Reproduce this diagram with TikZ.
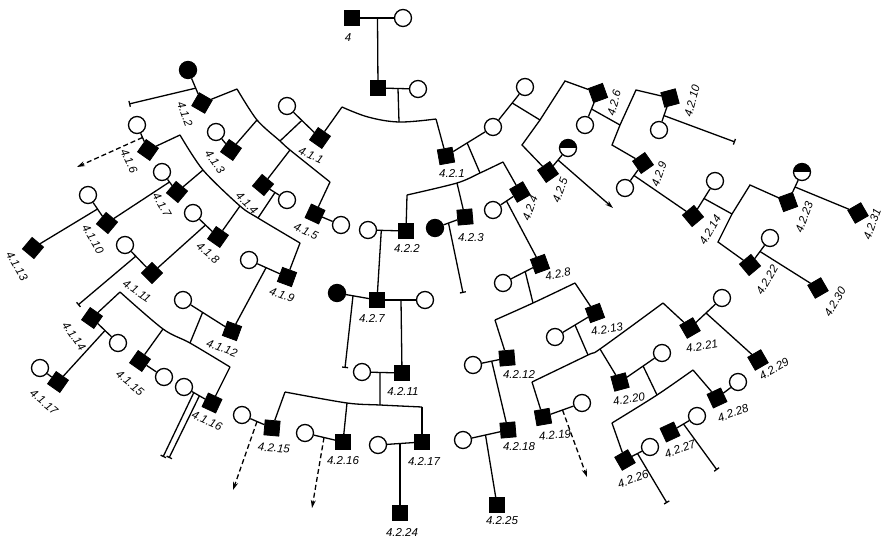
\documentclass[tikz,border=0pt]{standalone}
\usepackage{fontspec}
\setmainfont{Liberation Sans}
\usetikzlibrary{arrows.meta,calc}
\begin{document}
\begin{tikzpicture}[x=1pt,y=-1pt,
  line width=1.3pt,
  sq/.style={draw,fill=black,minimum size=15pt,inner sep=0pt,line width=0.8pt},
  ci/.style={draw,fill=white,circle,minimum size=17pt,inner sep=0pt,line width=1.3pt},
  fci/.style={ci,fill=black},
  hci/.style={ci,path picture={\fill[black] (path picture bounding box.north west) rectangle (path picture bounding box.east);}},
  lb/.style={font=\itshape\fontsize{11.5}{13}\selectfont,inner sep=0pt},
  tick/.style={-{Bar[width=6pt,line width=1.3pt]}},
  arr/.style={-{Stealth[length=8pt,width=5pt]}},
  dsh/.style={dash pattern=on 5pt off 3pt},
]
\useasboundingbox (0,0) rectangle (883,538);
\fill[white] (0,0) rectangle (883,538);

% ---------------- nodes: top ----------------
\node[sq] (s4) at (352,18) {};
\node[ci] (c4) at (403,18) {};
\node[lb] (l4) at (348,38) {4};
\node[sq] (sII) at (378,88) {};
\node[ci] (cII) at (418,89) {};

% ---------------- nodes: branch 4.1 ----------------
\node[sq,rotate=-35] (s411) at (320,138) {};
\node[ci] (c411) at (287,106) {};
\node[sq,rotate=-30] (s412) at (202,103) {};
\node[fci] (fc412) at (188,70) {};
\node[sq,rotate=-35] (s413) at (231,150) {};
\node[ci] (c413) at (216,132) {};
\node[sq,rotate=-40] (s414) at (263,185) {};
\node[ci] (c414) at (287,200) {};
\node[sq,rotate=-25] (s415) at (315,214) {};
\node[ci] (c415) at (341,225) {};
\node[sq,rotate=-35] (s416) at (148,150) {};
\node[ci] (c416) at (137,125) {};
\node[sq,rotate=-40] (s417) at (177,192) {};
\node[ci] (c417) at (162,172) {};
\node[sq,rotate=-35] (s418) at (218,237) {};
\node[ci] (c418) at (193,213) {};
\node[sq,rotate=-20] (s419) at (287,277) {};
\node[ci] (c419) at (249,260) {};
\node[sq,rotate=-40] (s4110) at (107,223) {};
\node[ci] (c4110) at (88,195) {};
\node[sq,rotate=-45] (s4111) at (152,273) {};
\node[ci] (c4111) at (125,245) {};
\node[sq,rotate=-20] (s4112) at (232,331) {};
\node[ci] (c4112) at (183,300) {};
\node[sq,rotate=-40] (s4113) at (33,248) {};
\node[sq,rotate=-35] (s4114) at (92,318) {};
\node[ci] (c4114) at (118,343) {};
\node[sq,rotate=-35] (s4115) at (140,361) {};
\node[ci] (c4115) at (164,377) {};
\node[sq,rotate=-25] (s4116) at (212,403) {};
\node[ci] (c4116) at (184,387) {};
\node[sq,rotate=-35] (s4117) at (58,382) {};
\node[ci] (c4117) at (40,368) {};

% ---------------- nodes: branch 4.2 ----------------
\node[sq,rotate=10] (s421) at (446,156) {};
\node[ci] (c421a) at (493,127) {};
\node[ci] (c421b) at (525,87) {};
\node[sq] (s422) at (406,231) {};
\node[ci] (c422) at (368,230) {};
\node[sq,rotate=5] (s423) at (465,217) {};
\node[fci] (fc423) at (435,228) {};
\node[sq,rotate=30] (s424) at (520,192) {};
\node[ci] (c424) at (493,210) {};
\node[sq,rotate=35] (s425) at (548,172) {};
\node[hci] (hc425) at (568,148) {};
\node[sq,rotate=20] (s426) at (598,93) {};
\node[ci] (c426) at (585,125) {};
\node[sq] (s427) at (377,300) {};
\node[fci] (fc427) at (337,293) {};
\node[ci] (c427) at (425,300) {};
\node[sq,rotate=20] (s428) at (540,264) {};
\node[ci] (c428) at (503,283) {};
\node[sq,rotate=35] (s429) at (643,163) {};
\node[ci] (c429) at (625,188) {};
\node[sq,rotate=15] (s4210) at (670,98) {};
\node[ci] (c4210) at (659,130) {};
\node[sq] (s4211) at (402,373) {};
\node[ci] (c4211) at (362,372) {};
\node[sq,rotate=5] (s4212) at (507,358) {};
\node[ci] (c4212) at (473,365) {};
\node[sq,rotate=20] (s4213) at (595,313) {};
\node[ci] (c4213) at (555,337) {};
\node[sq,rotate=40] (s4214) at (693,216) {};
\node[ci] (c4214) at (715,181) {};
\node[sq,rotate=-5] (s4215) at (272,428) {};
\node[ci] (c4215) at (242,415) {};
\node[sq] (s4216) at (343,442) {};
\node[ci] (c4216) at (305,433) {};
\node[sq] (s4217) at (422,442) {};
\node[ci] (c4217) at (378,445) {};
\node[sq,rotate=5] (s4218) at (508,430) {};
\node[ci] (c4218) at (463,440) {};
\node[sq,rotate=10] (s4219) at (543,417) {};
\node[ci] (c4219) at (582,403) {};
\node[sq,rotate=15] (s4220) at (620,382) {};
\node[ci] (c4220) at (662,353) {};
\node[sq,rotate=30] (s4221) at (690,328) {};
\node[ci] (c4221) at (722,298) {};
\node[sq,rotate=40] (s4222) at (750,265) {};
\node[ci] (c4222) at (770,238) {};
\node[sq,rotate=20] (s4223) at (788,202) {};
\node[hci] (hc4223) at (802,172) {};
\node[sq] (s4224) at (400,513) {};
\node[sq] (s4225) at (497,505) {};
\node[sq,rotate=30] (s4226) at (625,460) {};
\node[ci] (c4226) at (650,447) {};
\node[sq,rotate=25] (s4227) at (670,432) {};
\node[ci] (c4227) at (697,416) {};
\node[sq,rotate=25] (s4228) at (717,398) {};
\node[ci] (c4228) at (738,382) {};
\node[sq,rotate=30] (s4229) at (758,360) {};
\node[sq,rotate=30] (s4230) at (818,288) {};
\node[sq,rotate=30] (s4231) at (858,213) {};

% ---------------- labels ----------------
\node[lb,rotate=-25] (l411) at (311,155) {4.1.1};
\node[lb,rotate=-70] (l412) at (185,114) {4.1.2};
\node[lb,rotate=-55] (l413) at (215,162) {4.1.3};
\node[lb,rotate=-45] (l414) at (247,203) {4.1.4};
\node[lb,rotate=-25] (l415) at (306,231) {4.1.5};
\node[lb,rotate=-65] (l416) at (129,161) {4.1.6};
\node[lb,rotate=-60] (l417) at (162,205) {4.1.7};
\node[lb,rotate=-40] (l418) at (208,253) {4.1.8};
\node[lb,rotate=-20] (l419) at (282,295) {4.1.9};
\node[lb,rotate=-60] (l4110) at (93,239) {4.1.10};
\node[lb,rotate=-35] (l4111) at (137,291) {4.1.11};
\node[lb,rotate=-20] (l4112) at (222,348) {4.1.12};
\node[lb,rotate=-60] (l4113) at (17,266) {4.1.13};
\node[lb,rotate=-55] (l4114) at (74,336) {4.1.14};
\node[lb,rotate=-40] (l4115) at (130,383) {4.1.15};
\node[lb,rotate=-25] (l4116) at (207,421) {4.1.16};
\node[lb,rotate=-40] (l4117) at (44,402) {4.1.17};

\node[lb] (l421) at (452,173) {4.2.1};
\node[lb] (l422) at (407,248) {4.2.2};
\node[lb] (l423) at (471,238) {4.2.3};
\node[lb,rotate=70] (l424) at (530,208) {4.2.4};
\node[lb,rotate=70] (l425) at (560,190) {4.2.5};
\node[lb,rotate=75] (l426) at (614,103) {4.2.6};
\node[lb] (l427) at (372,318) {4.2.7};
\node[lb,rotate=10] (l428) at (558,274) {4.2.8};
\node[lb,rotate=70] (l429) at (659,174) {4.2.9};
\node[lb,rotate=75] (l4210) at (692,101) {4.2.10};
\node[lb] (l4211) at (403,391) {4.2.11};
\node[lb] (l4212) at (519,374) {4.2.12};
\node[lb,rotate=10] (l4213) at (607,329) {4.2.13};
\node[lb,rotate=60] (l4214) at (710,230) {4.2.14};
\node[lb,rotate=-5] (l4215) at (274,448) {4.2.15};
\node[lb] (l4216) at (343,461) {4.2.16};
\node[lb] (l4217) at (424,461) {4.2.17};
\node[lb] (l4218) at (519,447) {4.2.18};
\node[lb,rotate=5] (l4219) at (555,435) {4.2.19};
\node[lb,rotate=10] (l4220) at (629,399) {4.2.20};
\node[lb,rotate=10] (l4221) at (702,346) {4.2.21};
\node[lb,rotate=60] (l4222) at (767,280) {4.2.22};
\node[lb,rotate=70] (l4223) at (804,217) {4.2.23};
\node[lb] (l4224) at (402,532) {4.2.24};
\node[lb] (l4225) at (502,521) {4.2.25};
\node[lb,rotate=20] (l4226) at (633,479) {4.2.26};
\node[lb,rotate=20] (l4227) at (680,449) {4.2.27};
\node[lb,rotate=20] (l4228) at (733,413) {4.2.28};
\node[lb,rotate=30] (l4229) at (774,369) {4.2.29};
\node[lb,rotate=60] (l4230) at (835,302) {4.2.30};
\node[lb,rotate=70] (l4231) at (872,224) {4.2.31};

% ---------------- junction coordinates ----------------
\coordinate (j4) at ($(s4)!0.5!(c4)$);
\coordinate (jII) at ($(sII)!0.5!(cII)$);
\coordinate (aII) at (399,122);
\coordinate (a1L) at (342,107);
\coordinate (a1M) at (368,117);
\coordinate (a1R) at (436,119);

\coordinate (j411) at ($(c411)!0.45!(s411)$);
\coordinate (bL) at (237,89);
\coordinate (b3) at (257,120);
\coordinate (b411) at (280,141);
\coordinate (b4) at (290,150);
\coordinate (bR) at (330,182);
\coordinate (j412) at ($(fc412)!0.55!(s412)$);
\coordinate (t412) at (129,104);
\coordinate (j414) at ($(s414)!0.5!(c414)$);
\coordinate (cL) at (180,135);
\coordinate (c7) at (203,170);
\coordinate (c8) at (240,206);
\coordinate (d414) at (258,218);
\coordinate (cR) at (300,243);
\coordinate (j416) at ($(c416)!0.5!(s416)$);
\coordinate (e416) at (77,167);
\coordinate (j417) at ($(c417)!0.5!(s417)$);
\coordinate (j4110) at ($(c4110)!0.5!(s4110)$);
\coordinate (j418) at ($(c418)!0.5!(s418)$);
\coordinate (j4111) at ($(c4111)!0.4!(s4111)$);
\coordinate (t4111) at (78,305);
\coordinate (j419) at ($(c419)!0.45!(s419)$);
\coordinate (j4112) at ($(c4112)!0.4!(s4112)$);
\coordinate (dL) at (120,292);
\coordinate (d15) at (163,329);
\coordinate (d4112) at (190,343);
\coordinate (dR) at (230,367);
\coordinate (j4114) at ($(s4114)!0.5!(c4114)$);
\coordinate (j4116a) at ($(c4116)!0.35!(s4116)$);
\coordinate (j4116b) at ($(c4116)!0.55!(s4116)$);
\coordinate (t4116a) at (163,457);
\coordinate (t4116b) at (169,458);

\coordinate (j421) at ($(s421)!0.45!(c421a)$);
\coordinate (j421b) at ($(c421a)!0.6!(c421b)$);
\coordinate (eL) at (407,195);
\coordinate (e3) at (457,183);
\coordinate (e421) at (480,173);
\coordinate (eR) at (503,162);
\coordinate (j422) at ($(c422)!0.35!(s422)$);
\coordinate (j423) at ($(fc423)!0.45!(s423)$);
\coordinate (t423) at (463,293);
\coordinate (j424) at ($(s424)!0.5!(c424)$);
\coordinate (fL) at (522,145);
\coordinate (f0) at (540,120);
\coordinate (fT) at (565,81);
\coordinate (j425) at ($(s425)!0.5!(hc425)$);
\coordinate (e425) at (613,208);
\coordinate (j426) at ($(s426)!0.5!(c426)$);
\coordinate (mL) at (612,145);
\coordinate (m0) at (620,125);
\coordinate (mT) at (636,90);
\coordinate (j4210) at ($(s4210)!0.55!(c4210)$);
\coordinate (t4210) at (735,142);
\coordinate (j429) at ($(s429)!0.5!(c429)$);
\coordinate (j4214) at ($(s4214)!0.5!(c4214)$);
\coordinate (nL) at (718,242);
\coordinate (n0) at (732,214);
\coordinate (nT) at (750,185);
\coordinate (j4223) at ($(s4223)!0.5!(hc4223)$);
\coordinate (j4222) at ($(s4222)!0.5!(c4222)$);
\coordinate (j428) at ($(c428)!0.6!(s428)$);
\coordinate (g428) at (533,303);
\coordinate (gL) at (495,320);
\coordinate (gR) at (575,283);
\coordinate (j4212) at ($(c4212)!0.55!(s4212)$);
\coordinate (j4218) at ($(c4218)!0.5!(s4218)$);
\coordinate (j4213) at ($(c4213)!0.5!(s4213)$);
\coordinate (h13) at (588,355);
\coordinate (hL) at (532,382);
\coordinate (h20) at (600,349);
\coordinate (hR) at (663,303);
\coordinate (j4219) at ($(s4219)!0.5!(c4219)$);
\coordinate (e4219) at (587,477);
\coordinate (j4220) at ($(s4220)!0.55!(c4220)$);
\coordinate (k20) at (657,395);
\coordinate (kL) at (612,423);
\coordinate (kR) at (693,370);
\coordinate (j4226) at ($(s4226)!0.5!(c4226)$);
\coordinate (t4226) at (667,503);
\coordinate (j4227) at ($(s4227)!0.5!(c4227)$);
\coordinate (t4227) at (717,470);
\coordinate (j4221) at ($(s4221)!0.5!(c4221)$);
\coordinate (j427a) at ($(fc427)!0.4!(s427)$);
\coordinate (t427) at (345,368);
\coordinate (j427b) at ($(s427)!0.5!(c427)$);
\coordinate (j4211) at ($(c4211)!0.45!(s4211)$);
\coordinate (p0) at (380,405);
\coordinate (pL) at (285,392);
\coordinate (p16) at (347,403);
\coordinate (pR) at (422,407);
\coordinate (j4215) at ($(c4215)!0.5!(s4215)$);
\coordinate (e4215) at (233,490);
\coordinate (j4216) at ($(c4216)!0.5!(s4216)$);
\coordinate (e4216) at (312,508);
\coordinate (j4217) at ($(c4217)!0.5!(s4217)$);

% ---------------- connectors ----------------
\draw (s4) -- (c4);
\draw (j4) -- (sII);
\draw (sII) -- (cII);
\draw (jII) -- (aII);
\draw plot[smooth,tension=0.6] coordinates {(a1L) (a1M) (aII) (a1R)};
\draw (s411) -- (a1L);
\draw (a1R) -- (s421);

% branch 4.1
\draw (c411) -- (s411);
\draw (j411) -- (b411);
\draw plot[smooth,tension=0.5] coordinates {(bL) (b3) (b411) (b4) (bR)};
\draw (s412) -- (bL);
\draw (fc412) -- (s412);
\draw[tick] (j412) -- (t412);
\draw (c413) -- (s413);
\draw (s413) -- (b3);
\draw (s414) -- (c414);
\draw (s414) -- (b4);
\draw (j414) -- (d414);
\draw (bR) -- (s415);
\draw (s415) -- (c415);
\draw plot[smooth,tension=0.5] coordinates {(cL) (c7) (c8) (d414) (cR)};
\draw (s416) -- (cL);
\draw (c416) -- (s416);
\draw[dsh,arr] (j416) -- (e416);
\draw (c417) -- (s417);
\draw (s417) -- (c7);
\draw (j417) -- (s4110);
\draw (c4110) -- (s4110);
\draw (j4110) -- (s4113);
\draw (c418) -- (s418);
\draw (s418) -- (c8);
\draw (j418) -- (s4111);
\draw (c4111) -- (s4111);
\draw[tick] (j4111) -- (t4111);
\draw (cR) -- (s419);
\draw (c419) -- (s419);
\draw (j419) -- (s4112);
\draw (c4112) -- (s4112);
\draw (j4112) -- (d4112);
\draw plot[smooth,tension=0.5] coordinates {(dL) (d15) (d4112) (dR)};
\draw (s4114) -- (dL);
\draw (s4114) -- (c4114);
\draw (j4114) -- (s4117);
\draw (c4117) -- (s4117);
\draw (s4115) -- (d15);
\draw (s4115) -- (c4115);
\draw (dR) -- (s4116);
\draw (c4116) -- (s4116);
\draw[tick] (j4116a) -- (t4116a);
\draw[tick] (j4116b) -- (t4116b);

% branch 4.2
\draw (s421) -- (c421a);
\draw (c421a) -- (c421b);
\draw (j421) -- (e421);
\draw plot[smooth,tension=0.5] coordinates {(eL) (e3) (e421) (eR)};
\draw (eL) -- (s422);
\draw (c422) -- (s422);
\draw (j422) -- (s427);
\draw (e3) -- (s423);
\draw (fc423) -- (s423);
\draw[tick] (j423) -- (t423);
\draw (eR) -- (s424);
\draw (c424) -- (s424);
\draw (j424) -- (s428);

\draw (j421b) -- (f0);
\draw (s425) -- (fL) -- (f0) -- (fT) -- (s426);
\draw (s425) -- (hc425);
\draw[arr] (j425) -- (e425);
\draw (s426) -- (c426);
\draw (j426) -- (m0);
\draw (s429) -- (mL) -- (m0) -- (mT) -- (s4210);
\draw (s4210) -- (c4210);
\draw[tick] (j4210) -- (t4210);
\draw (s429) -- (c429);
\draw (j429) -- (s4214);
\draw (s4214) -- (c4214);
\draw (j4214) -- (n0);
\draw (s4222) -- (nL) -- (n0) -- (nT) -- (s4223);
\draw (s4223) -- (hc4223);
\draw (j4223) -- (s4231);
\draw (s4222) -- (c4222);
\draw (j4222) -- (s4230);

\draw (c428) -- (s428);
\draw (j428) -- (g428);
\draw plot[smooth,tension=0.5] coordinates {(gL) (g428) (gR)};
\draw (gL) -- (s4212);
\draw (gR) -- (s4213);
\draw (c4212) -- (s4212);
\draw (j4212) -- (s4218);
\draw (c4218) -- (s4218);
\draw (j4218) -- (s4225);
\draw (c4213) -- (s4213);
\draw (j4213) -- (h13);
\draw plot[smooth,tension=0.5] coordinates {(hL) (h13) (h20) (hR)};
\draw (hL) -- (s4219);
\draw (h20) -- (s4220);
\draw (hR) -- (s4221);
\draw (s4219) -- (c4219);
\draw[dsh,arr] (j4219) -- (e4219);
\draw (s4220) -- (c4220);
\draw (j4220) -- (k20);
\draw plot[smooth,tension=0.5] coordinates {(kL) (k20) (kR)};
\draw (kL) -- (s4226);
\draw (kR) -- (s4228);
\draw (s4226) -- (c4226);
\draw[tick] (j4226) -- (t4226);
\draw (s4227) -- (c4227);
\draw[tick] (j4227) -- (t4227);
\draw (s4228) -- (c4228);
\draw (s4221) -- (c4221);
\draw (j4221) -- (s4229);

\draw (fc427) -- (s427);
\draw (s427) -- (c427);
\draw[tick] (j427a) -- (t427);
\draw (j427b) -- (s4211);
\draw (c4211) -- (s4211);
\draw (j4211) -- (p0);
\draw plot[smooth,tension=0.5] coordinates {(pL) (p16) (p0) (pR)};
\draw (pL) -- (s4215);
\draw (p16) -- (s4216);
\draw (pR) -- (s4217);
\draw (c4215) -- (s4215);
\draw[dsh,arr] (j4215) -- (e4215);
\draw (c4216) -- (s4216);
\draw[dsh,arr] (j4216) -- (e4216);
\draw (c4217) -- (s4217);
\draw (j4217) -- (s4224);
\end{tikzpicture}
\end{document}
